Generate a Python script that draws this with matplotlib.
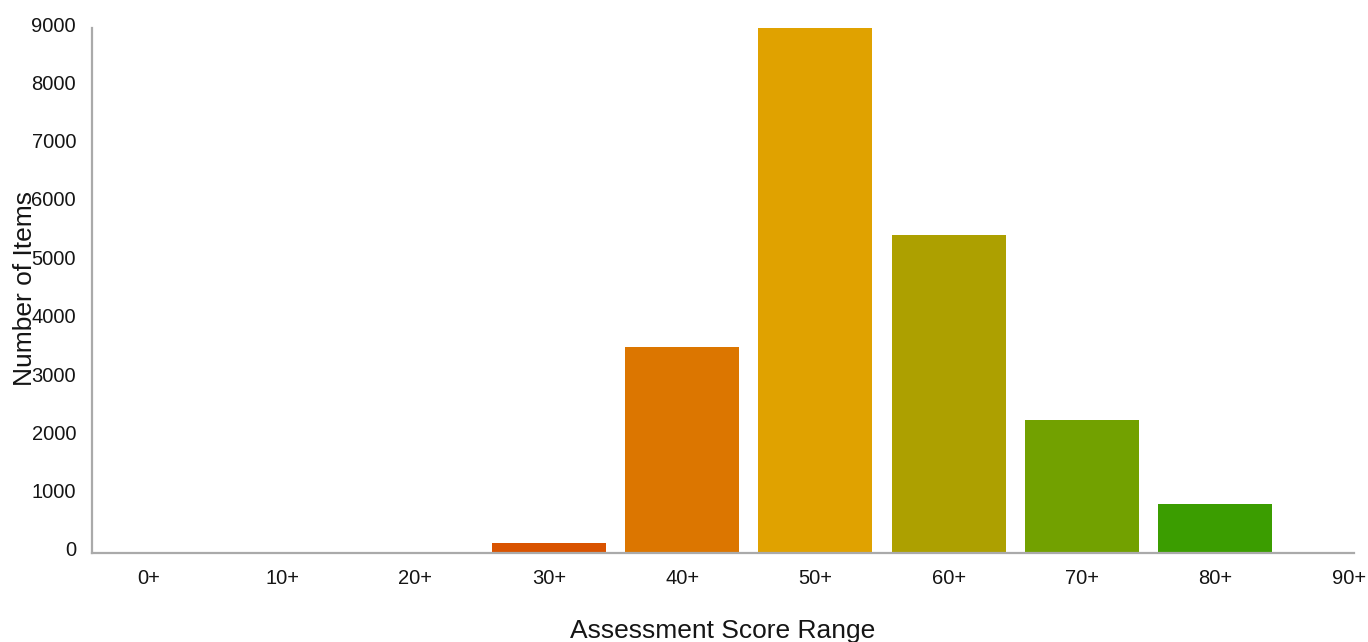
import matplotlib
matplotlib.use("Agg")
import matplotlib.pyplot as plt
import matplotlib.transforms as mtransforms

categories = ["0+", "10+", "20+", "30+", "40+", "50+", "60+", "70+", "80+", "90+"]
counts = [0, 0, 0, 175, 3540, 9000, 5460, 2280, 840, 0]
colors = ["#D95300", "#D95300", "#D95300", "#D95300", "#DC7600", "#E0A200",
          "#ADA000", "#72A100", "#3B9D00", "#3B9D00"]
yticks = [0, 1000, 2000, 3000, 4000, 5000, 6000, 7000, 8000, 9000]
x_title = "Assessment Score Range"
y_title = "Number of Items"

plt.rcParams['font.family'] = ['Liberation Sans', 'DejaVu Sans']

W, H = 1368, 642
fig = plt.figure(figsize=(W / 100, H / 100), dpi=100)
ax = fig.add_axes([92 / W, (H - 553) / H, (1354 - 92) / W, (553 - 28) / H])

x = list(range(len(categories)))
ax.bar(x, counts, width=0.855, color=colors, zorder=2)

ax.set_xlim(-0.426, 9.039)
ax.set_ylim(0, 9000)
ax.set_xticks(x)
ax.set_xticklabels(categories, fontsize=14.5, color="#151515")
ax.set_yticks(yticks)
ax.set_yticklabels([str(v) for v in yticks], fontsize=14.5, color="#151515")
ax.tick_params(axis="both", length=0)
ax.tick_params(axis="y", pad=11.5)
ax.tick_params(axis="x", pad=11.5)

off = mtransforms.ScaledTranslation(0, 4 / 100, fig.dpi_scale_trans)
for lbl in ax.get_yticklabels():
    lbl.set_transform(lbl.get_transform() + off)

for side in ["top", "right"]:
    ax.spines[side].set_visible(False)
for side in ["left", "bottom"]:
    ax.spines[side].set_color("#AAAAAA")
    ax.spines[side].set_linewidth(1.6)
ax.spines["bottom"].set_zorder(3)

fig.text(723 / W, 1 - 631 / H, x_title, fontsize=19, color="#151515",
         ha="center", va="center")
fig.text(25 / W, 1 - 289 / H, y_title, fontsize=19, color="#151515",
         ha="center", va="center", rotation=90)

fig.savefig("out.png", dpi=100)
